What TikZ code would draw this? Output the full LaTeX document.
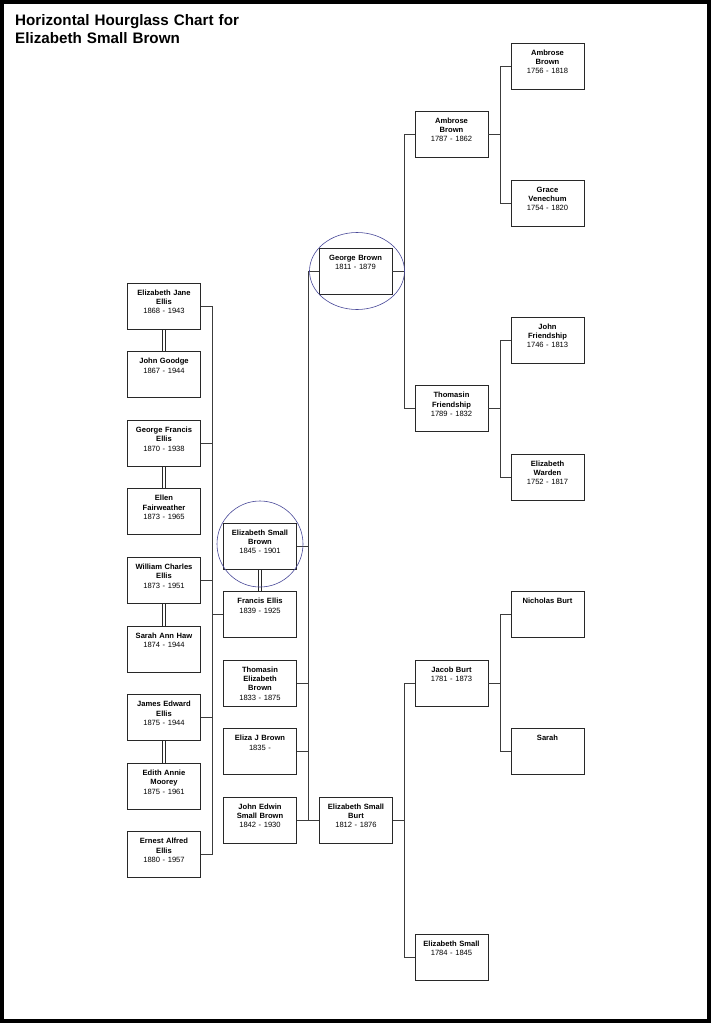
\documentclass[tikz,border=0pt]{standalone}
\usepackage{fontspec}
\setmainfont{Liberation Sans}
\usepackage{tikz}
\usetikzlibrary{shapes,arrows}
\usetikzlibrary{positioning,backgrounds}
\definecolor{ringblue}{RGB}{72,72,152}
\definecolor{boxline}{RGB}{40,40,40}
\definecolor{linkgray}{RGB}{60,60,60}
\tikzstyle{person} = [draw=boxline, line width=0.9pt, rectangle, fill=white,
    minimum width=73pt, minimum height=46pt, text width=70pt, align=center,
    inner sep=0pt, text height=12.1pt, text depth=33.9pt,
    font=\fontsize{7.6}{9.4}\selectfont]
\tikzstyle{link} = [draw=linkgray, line width=0.8pt]
\tikzstyle{spouse} = [draw=boxline, line width=0.8pt, double=white, double distance=1.7pt]
\tikzstyle{ring} = [draw=ringblue, ellipse, line width=0.6pt, inner sep=0pt]
\tikzstyle{title} = [anchor=base west, text width=330pt, align=left, inner sep=0pt,
    font=\fontsize{15.2}{17.4}\selectfont\bfseries]

\begin{document}
\begin{tikzpicture}[x=1pt, y=-1pt]
  \useasboundingbox (0,0) rectangle (711,1023);
  \draw [line width=4pt] (2,2) rectangle (709,1021);
  \node [title] (title) at (15,25.6) {Horizontal Hourglass Chart for\\Elizabeth Small Brown};

  % children of Elizabeth Small Brown and their spouses
  \node [person] (ejane) at (164,306) {\textbf{Elizabeth Jane\\Ellis}\\1868 - 1943};
  \node [person, below of=ejane, node distance=68.6pt] (jgoodge) {\textbf{John Goodge}\\1867 - 1944};
  \node [person, below of=jgoodge, node distance=68.6pt] (gfrancis) {\textbf{George Francis\\Ellis}\\1870 - 1938};
  \node [person, below of=gfrancis, node distance=68.6pt] (ellen) {\textbf{Ellen\\Fairweather}\\1873 - 1965};
  \node [person, below of=ellen, node distance=68.6pt] (wcharles) {\textbf{William Charles\\Ellis}\\1873 - 1951};
  \node [person, below of=wcharles, node distance=68.6pt] (sahaw) {\textbf{Sarah Ann Haw}\\1874 - 1944};
  \node [person, below of=sahaw, node distance=68.6pt] (jedward) {\textbf{James Edward\\Ellis}\\1875 - 1944};
  \node [person, below of=jedward, node distance=68.6pt] (eannie) {\textbf{Edith Annie\\Moorey}\\1875 - 1961};
  \node [person, below of=eannie, node distance=68.6pt] (ealfred) {\textbf{Ernest Alfred\\Ellis}\\1880 - 1957};

  % Elizabeth, her husband and her siblings
  \node [person] (esbrown) at (260,546) {\textbf{Elizabeth Small\\Brown}\\1845 - 1901};
  \node [person, below of=esbrown, node distance=68.5pt] (fellis) {\textbf{Francis Ellis}\\1839 - 1925};
  \node [person, below of=fellis, node distance=68.5pt] (telizabeth) {\textbf{Thomasin\\Elizabeth\\Brown}\\1833 - 1875};
  \node [person, below of=telizabeth, node distance=68.5pt] (elizaj) {\textbf{Eliza J Brown}\\1835 -};
  \node [person, below of=elizaj, node distance=68.5pt] (jedwin) {\textbf{John Edwin\\Small Brown}\\1842 - 1930};

  % parents
  \node [person] (gbrown) at (355.5,271) {\textbf{George Brown}\\1811 - 1879};
  \node [person, right of=jedwin, node distance=96pt] (esburt) {\textbf{Elizabeth Small\\Burt}\\1812 - 1876};

  % grandparents
  \node [person] (abrown) at (451.5,134) {\textbf{Ambrose\\Brown}\\1787 - 1862};
  \node [person, below of=abrown, node distance=274.5pt] (tfriend) {\textbf{Thomasin\\Friendship}\\1789 - 1832};
  \node [person, below of=tfriend, node distance=274.5pt] (jburt) {\textbf{Jacob Burt}\\1781 - 1873};
  \node [person, below of=jburt, node distance=274pt] (esmall) {\textbf{Elizabeth Small}\\1784 - 1845};

  % great grandparents
  \node [person] (abrownsr) at (547.5,66) {\textbf{Ambrose\\Brown}\\1756 - 1818};
  \node [person, below of=abrownsr, node distance=137pt] (gvene) {\textbf{Grace\\Venechum}\\1754 - 1820};
  \node [person, below of=gvene, node distance=137pt] (jfriend) {\textbf{John\\Friendship}\\1746 - 1813};
  \node [person, below of=jfriend, node distance=137pt] (ewarden) {\textbf{Elizabeth\\Warden}\\1752 - 1817};
  \node [person, below of=ewarden, node distance=137pt] (nburt) {\textbf{Nicholas Burt}};
  \node [person, below of=nburt, node distance=137pt] (sarah) {\textbf{Sarah}};

  \coordinate (kidbus) at (212,0);
  \coordinate (sibbus) at (308,0);
  \coordinate (pbus) at (404,0);
  \coordinate (gpbus) at (500,0);

  % children
  \draw [link] (ejane.east) -| (kidbus |- ealfred.east) -- (ealfred.east);
  \draw [link] (gfrancis.east) -- (gfrancis.east -| kidbus);
  \draw [link] (wcharles.east) -- (wcharles.east -| kidbus);
  \draw [link] (jedward.east) -- (jedward.east -| kidbus);
  \draw [link] (fellis.west) -- (fellis.west -| kidbus);

  % siblings
  \draw [link] (gbrown.west) -| (sibbus |- jedwin.east);
  \draw [link] (jedwin.east) -- (esburt.west);
  \draw [link] (esbrown.east) -- (esbrown.east -| sibbus);
  \draw [link] (telizabeth.east) -- (telizabeth.east -| sibbus);
  \draw [link] (elizaj.east) -- (elizaj.east -| sibbus);

  % ancestors
  \draw [link] (abrown.west) -- (abrown.west -| pbus) |- (tfriend.west);
  \draw [link] (gbrown.east) -- (gbrown.east -| pbus);
  \draw [link] (jburt.west) -- (jburt.west -| pbus) |- (esmall.west);
  \draw [link] (esburt.east) -- (esburt.east -| pbus);
  \draw [link] (abrownsr.west) -- (abrownsr.west -| gpbus) |- (gvene.west);
  \draw [link] (abrown.east) -- (abrown.east -| gpbus);
  \draw [link] (jfriend.west) -- (jfriend.west -| gpbus) |- (ewarden.west);
  \draw [link] (tfriend.east) -- (tfriend.east -| gpbus);
  \draw [link] (nburt.west) -- (nburt.west -| gpbus) |- (sarah.west);
  \draw [link] (jburt.east) -- (jburt.east -| gpbus);

  % marriages
  \begin{scope}[on background layer]
    \draw [spouse] (ejane.south) -- (jgoodge.north);
    \draw [spouse] (gfrancis.south) -- (ellen.north);
    \draw [spouse] (wcharles.south) -- (sahaw.north);
    \draw [spouse] (jedward.south) -- (eannie.north);
    \draw [spouse] (esbrown.south) -- (fellis.north);
  \end{scope}

  \node [ring, minimum width=86pt, minimum height=86pt] (ring1) at (260,544) {};
  \node [ring, minimum width=95pt, minimum height=77pt] (ring2) at (357,271) {};
\end{tikzpicture}
\end{document}
